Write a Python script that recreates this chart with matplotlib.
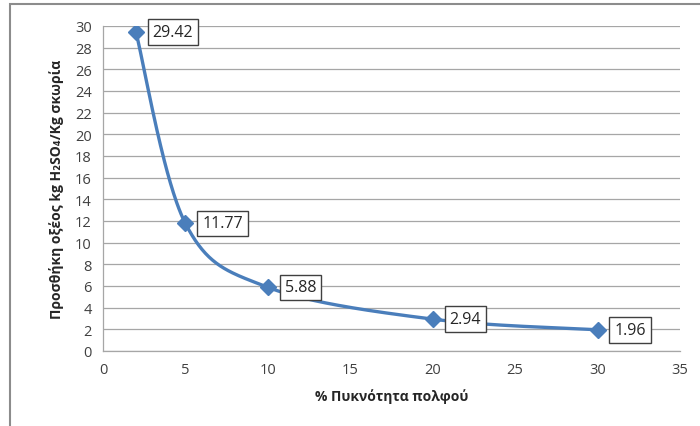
import numpy as np
import matplotlib
matplotlib.use("Agg")
import matplotlib.pyplot as plt
from matplotlib.patches import Rectangle

pulp_density = [2, 5, 10, 20, 30]
acid_addition = [29.42, 11.77, 5.88, 2.94, 1.96]
x_ticks = [0, 5, 10, 15, 20, 25, 30, 35]
y_ticks = list(range(0, 31, 2))

line_color = "#4A7EBB"
grid_color = "#A6A6A6"
font = ["Open Sans", "DejaVu Sans"]


def smooth_curve(xs, ys, n=60):
    """Cubic Bezier smoothing through every point (Catmull-Rom style tangents)."""
    pts = np.column_stack([xs, ys]).astype(float)
    out = [pts[0]]
    for i in range(len(pts) - 1):
        p0 = pts[i - 1] if i > 0 else pts[i]
        p1 = pts[i]
        p2 = pts[i + 1]
        p3 = pts[i + 2] if i + 2 < len(pts) else pts[i + 1]
        c1 = p1 + (p2 - p0) / 6.0
        c2 = p2 - (p3 - p1) / 6.0
        t = np.linspace(0, 1, n)[1:, None]
        seg = ((1 - t) ** 3) * p1 + 3 * ((1 - t) ** 2) * t * c1 + 3 * (1 - t) * t ** 2 * c2 + t ** 3 * p2
        out.extend(seg)
    out = np.array(out)
    return out[:, 0], out[:, 1]


fig = plt.figure(figsize=(7.0, 4.27), dpi=100)
fig.patch.set_facecolor("white")

# outer chart frame
fig.patches.append(Rectangle((9.5 / 700, -0.01), 1.0, (427 - 4.5) / 427 + 0.01,
                             transform=fig.transFigure, fill=False,
                             edgecolor="#8C8C8C", linewidth=1.5))

ax = fig.add_axes([103 / 700, (427 - 352) / 427, (680 - 103) / 700, (352 - 27) / 427])
ax.set_xlim(0, 35)
ax.set_ylim(0, 30)
ax.set_xticks(x_ticks)
ax.set_yticks(y_ticks)
ax.grid(axis="y", color=grid_color, linewidth=0.9)
ax.set_axisbelow(True)
for side in ["top", "right"]:
    ax.spines[side].set_visible(False)
for side in ["left", "bottom"]:
    ax.spines[side].set_color(grid_color)
    ax.spines[side].set_linewidth(0.9)
ax.tick_params(length=0, labelsize=10.5, colors="#404040", pad=8)
for lab in ax.get_xticklabels() + ax.get_yticklabels():
    lab.set_family(font)

sx, sy = smooth_curve(pulp_density, acid_addition)
ax.plot(sx, sy, color=line_color, linewidth=2.4, solid_capstyle="round", zorder=3)
ax.plot(pulp_density, acid_addition, linestyle="none", marker="D", markersize=8,
        color=line_color, zorder=4)

for xv, yv in zip(pulp_density, acid_addition):
    ax.annotate(f"{yv:.2f}", (xv, yv), xytext=(12, 0), textcoords="offset points",
                ha="left", va="center", fontsize=11.5, family=font, color="#262626",
                bbox=dict(boxstyle="square,pad=0.3", facecolor="white",
                          edgecolor="#404040", linewidth=1.0), zorder=5)

ax.set_xlabel("% Πυκνότητα πολφού", family=font, fontsize=10, fontweight="bold",
              color="#262626", labelpad=8)
ax.set_ylabel("Προσθήκη οξέος kg H₂SO₄/Kg σκωρία", family=font, fontsize=10,
              fontweight="bold", color="#262626", labelpad=8)

fig.savefig("out.png", dpi=100)
